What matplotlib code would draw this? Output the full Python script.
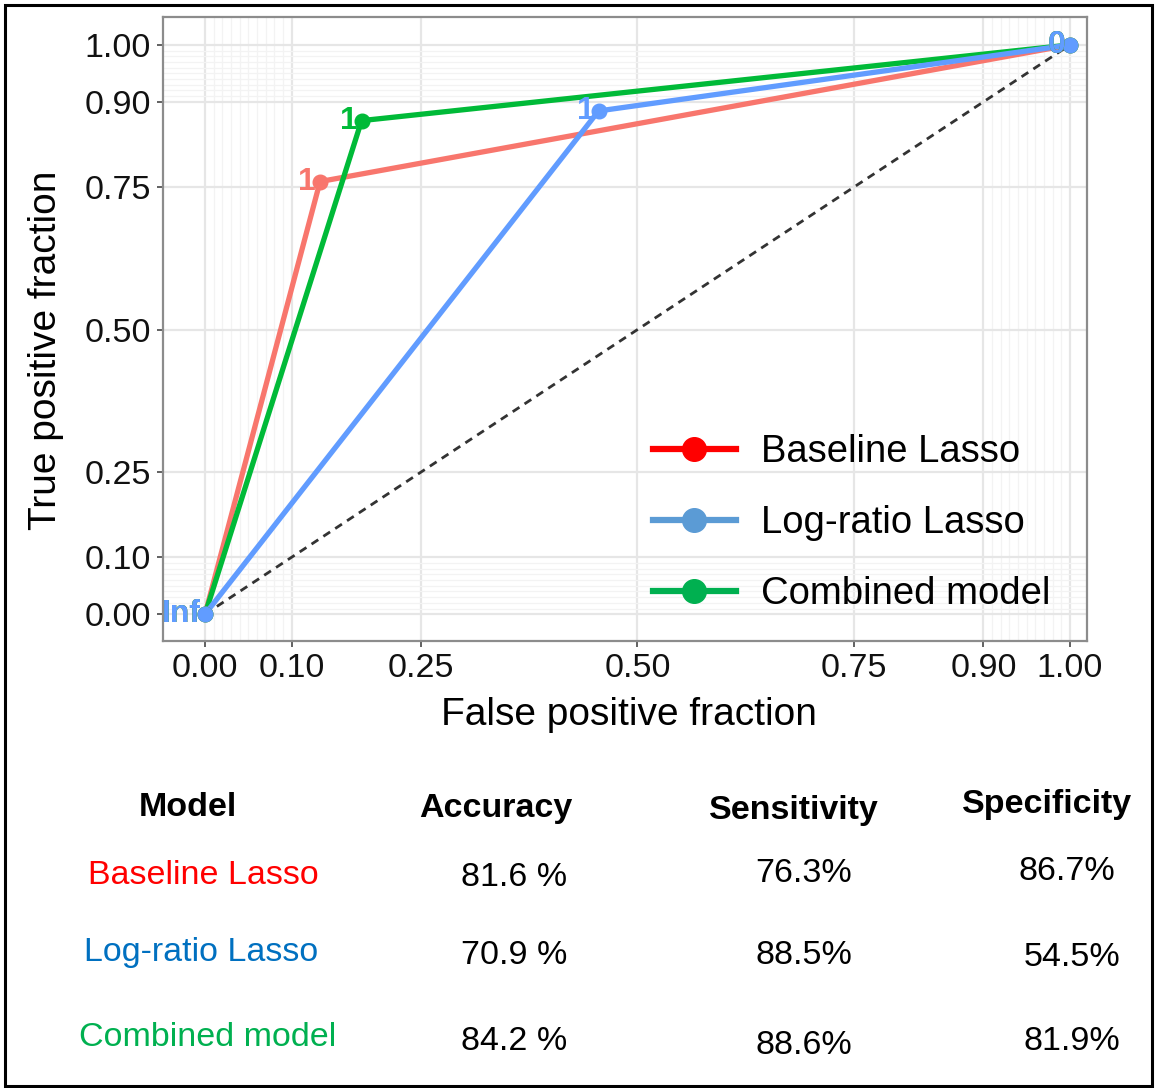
import matplotlib
matplotlib.use('Agg')
import matplotlib.pyplot as plt
from matplotlib.lines import Line2D
from matplotlib.patches import Rectangle
import numpy as np

plt.rcParams['font.family'] = ['Liberation Sans', 'DejaVu Sans']

# ---------------- data ----------------
models = ['Baseline Lasso', 'Log-ratio Lasso', 'Combined model']
fpf = {'Baseline Lasso': [0.0, 0.133, 1.0],
       'Log-ratio Lasso': [0.0, 0.455, 1.0],
       'Combined model': [0.0, 0.181, 1.0]}
tpf = {'Baseline Lasso': [0.0, 0.760, 1.0],
       'Log-ratio Lasso': [0.0, 0.884, 1.0],
       'Combined model': [0.0, 0.867, 1.0]}
cutoff_labels = ['Inf', '1', '0']
accuracy = ['81.6 %', '70.9 %', '84.2 %']
sensitivity = ['76.3%', '88.5%', '88.6%']
specificity = ['86.7%', '54.5%', '81.9%']
headers = ['Model', 'Accuracy', 'Sensitivity', 'Specificity']
major_breaks = [0.0, 0.1, 0.25, 0.5, 0.75, 0.9, 1.0]
tick_labels = ['0.00', '0.10', '0.25', '0.50', '0.75', '0.90', '1.00']

line_colors = {'Baseline Lasso': '#F8766D', 'Log-ratio Lasso': '#619CFF', 'Combined model': '#00BA38'}
legend_colors = {'Baseline Lasso': '#FF0000', 'Log-ratio Lasso': '#5B9BD5', 'Combined model': '#00B050'}
table_colors = {'Baseline Lasso': '#FF0000', 'Log-ratio Lasso': '#0070C0', 'Combined model': '#00B050'}
draw_order = ['Baseline Lasso', 'Combined model', 'Log-ratio Lasso']

W, H = 1155, 1088
fig = plt.figure(figsize=(W / 100, H / 100), dpi=100)
fig.patch.set_facecolor('white')

def fx(px):
    return px / W

def fy(py):
    return 1 - py / H

ax = fig.add_axes([fx(163), fy(641), fx(1087) - fx(163), fy(17) - fy(641)])
ax.set_xlim(-0.0486, 1.0197)
ax.set_ylim(-0.047, 1.049)

# grid
minor = [v for v in np.round(np.arange(0, 0.101, 0.01), 2)] + [v for v in np.round(np.arange(0.9, 1.001, 0.01), 2)]
ax.set_xticks(minor, minor=True)
ax.set_yticks(minor, minor=True)
ax.set_xticks(major_breaks)
ax.set_yticks(major_breaks)
ax.set_xticklabels(tick_labels)
ax.set_yticklabels(tick_labels)
ax.grid(which='minor', color='#F3F3F3', lw=0.9)
ax.grid(which='major', color='#E6E6E6', lw=1.6)
ax.set_axisbelow(True)
ax.tick_params(which='minor', length=0)
ax.tick_params(which='major', length=4.5, width=1.3, color='#555555', labelsize=24.5, pad=4,
               labelcolor='#111111')
for s in ax.spines.values():
    s.set_color('#8C8C8C')
    s.set_linewidth(1.6)

# diagonal reference
ax.plot([0, 1], [0, 1], ls=(0, (2.9, 2.2)), color='#333333', lw=2.0, zorder=2)

# ROC lines
for m in draw_order:
    ax.plot(fpf[m], tpf[m], color=line_colors[m], lw=3.8, zorder=3, solid_capstyle='round')
for m in draw_order:
    ax.plot(fpf[m], tpf[m], ls='none', marker='o', ms=10.5, color=line_colors[m], zorder=4)
for m in draw_order:
    for x, y, lab in zip(fpf[m], tpf[m], cutoff_labels):
        ax.annotate(lab, (x, y), xytext=(-3, 0), textcoords='offset points', ha='right',
                    va='center', color=line_colors[m], fontsize=23, fontweight='bold', zorder=5)

ax.set_xlabel('False positive fraction', fontsize=28)
ax.set_ylabel('True positive fraction', fontsize=28)
ax.xaxis.set_label_coords((629 - 163) / 924, (641 - 697) / 624)
ax.yaxis.set_label_coords((64 - 163) / 924, (641 - 350) / 624)

# legend
handles = [Line2D([], [], color=legend_colors[m], lw=4.5, marker='o', ms=17) for m in models]
leg = ax.legend(handles, models, loc='upper left', bbox_to_anchor=((653 - 163) / 924, (641 - 434) / 624),
                frameon=False, fontsize=27.5, handlelength=2.16, handletextpad=0.66,
                labelspacing=0.92, borderpad=0, borderaxespad=0)

# table
header_pos = [(188, 808), (496, 808), (794, 810), (1047, 805)]
for (x, y), h in zip(header_pos, headers):
    fig.text(fx(x), fy(y), h, ha='center', va='center', fontsize=24.5, fontweight='bold')

row_model_pos = [(203, 875), (201, 953), (208, 1038)]
acc_pos = [(514, 878), (514, 955), (514, 1042)]
sens_pos = [(804, 874), (804, 955), (804, 1046)]
spec_pos = [(1067, 871), (1072, 957), (1072, 1042)]
for i, m in enumerate(models):
    fig.text(fx(row_model_pos[i][0]), fy(row_model_pos[i][1]), m, ha='center', va='center',
             fontsize=24.5, color=table_colors[m])
    fig.text(fx(acc_pos[i][0]), fy(acc_pos[i][1]), accuracy[i], ha='center', va='center', fontsize=24.5)
    fig.text(fx(sens_pos[i][0]), fy(sens_pos[i][1]), sensitivity[i], ha='center', va='center', fontsize=24.5)
    fig.text(fx(spec_pos[i][0]), fy(spec_pos[i][1]), specificity[i], ha='center', va='center', fontsize=24.5)

# outer frame
fig.patches.append(Rectangle((fx(5), fy(1086)), fx(1152) - fx(5), fy(5) - fy(1086),
                             transform=fig.transFigure, fill=False, edgecolor='black', lw=2.2))

fig.savefig('out.png', dpi=100)
